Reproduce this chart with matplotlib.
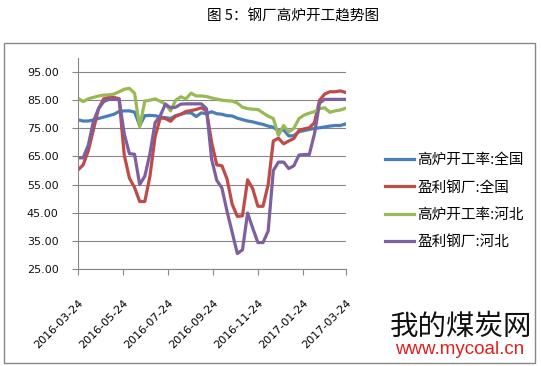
import numpy as np
import pandas as pd
import matplotlib
matplotlib.use('Agg')
import matplotlib.pyplot as plt
import matplotlib.dates as mdates
from matplotlib.patches import Rectangle

plt.rcParams['font.family'] = ['Noto Sans CJK SC', 'DejaVu Sans']

# weekly dates, 2016-03-24 .. 2017-03-23
dates = pd.date_range('2016-03-24', periods=53, freq='7D')

blast_national = [78, 77.6, 77.6, 78, 78.5, 79, 79.5, 80, 81, 81.2, 81.2, 80.8, 76,
                  79.5, 79.6, 79.5, 79, 78.8, 78.5, 79.5, 80, 80.5, 80.5, 79.2, 80.5,
                  80.2, 80.9, 80.2, 80, 79.5, 79.4, 78.6, 78.1, 77.6, 77.3, 76.8, 76.4,
                  75.8, 75.4, 74, 74.5, 72.3, 72.4, 73.8, 74.2, 74.6, 75, 75.2, 75.5,
                  75.8, 76, 76, 76.5]
profit_national = [60.2, 62, 67, 74.5, 82, 85.5, 86, 86, 85.5, 65.5, 57.3, 54, 49,
                   49, 58, 72, 78.7, 78.5, 77.5, 79.3, 80, 81, 81.3, 81.7, 82.3,
                   81.2, 70, 62, 61.7, 57, 48, 43.7, 43.9, 56.7, 53.5, 47.3, 47.3,
                   55, 70.5, 71.5, 69.5, 70.5, 71.4, 74.3, 74.8, 75.2, 77, 85, 87.2,
                   88, 88, 88.3, 87.8]
blast_hebei = [85.7, 84.5, 85.5, 86, 86.5, 86.8, 86.9, 87.2, 88, 88.9, 89.2, 87.5, 75.5,
               84.7, 85, 85.5, 84.6, 83.6, 81.2, 85, 86.2, 85.5, 87.5, 86.5, 86.5,
               86.3, 85.8, 85.4, 85, 84.8, 84.7, 84, 82.5, 82, 81.8, 81.7, 80.5,
               79.3, 78.5, 72.5, 76, 73.7, 75, 78.5, 79.7, 80.4, 80.9, 82, 82.3,
               80.7, 81.2, 81.5, 82.1]
profit_hebei = [64.5, 64.5, 69, 77.5, 82, 84.5, 85.3, 85.3, 85.3, 73, 66, 65.8, 55,
                58, 66, 77, 79.5, 83.6, 82.3, 82.5, 83.6, 83.7, 83.7, 83.7, 83.7,
                82, 64, 56.5, 53.8, 45.5, 38, 30.5, 31.8, 44.9, 39.5, 34.4, 34.4,
                38.5, 60, 63, 63, 60.7, 61.7, 65.5, 65.7, 65.7, 73, 84, 85.3,
                85.3, 85.3, 85.3, 85.3]

labels = ['高炉开工率:全国', '盈利钢厂:全国', '高炉开工率:河北', '盈利钢厂:河北']
colors = ['#4a7ebb', '#be4b48', '#98b954', '#7d60a0']
tick_dates = pd.to_datetime(['2016-03-24', '2016-05-24', '2016-07-24', '2016-09-24',
                             '2016-11-24', '2017-01-24', '2017-03-24'])
yticks = [25, 35, 45, 55, 65, 75, 85, 95]

fig = plt.figure(figsize=(5.41, 3.66), dpi=100)
fig.patch.set_facecolor('white')
ax = fig.add_axes([78 / 541, 1 - 269 / 366, 268 / 541, 211 / 366])

for vals, lab, c in zip([blast_national, profit_national, blast_hebei, profit_hebei], labels, colors):
    ax.plot(dates, vals, color=c, lw=2.3, label=lab, solid_joinstyle='round')

ax.set_ylim(25, 100)
ax.set_yticks(yticks)
ax.set_yticklabels(['%.2f' % v for v in yticks], family='DejaVu Sans', fontsize=8, color='#111111')
ax.set_xlim(pd.Timestamp('2016-03-24'), pd.Timestamp('2017-03-24'))
ax.set_xticks(tick_dates)
ax.set_xticklabels([d.strftime('%Y-%m-%d') for d in tick_dates], family='DejaVu Sans',
                   fontsize=8, rotation=45, ha='right', va='top', rotation_mode='anchor')
ax.grid(axis='y', color='#878787', lw=0.8)
ax.set_axisbelow(True)
for s in ['top', 'right']:
    ax.spines[s].set_visible(False)
for s in ['left', 'bottom']:
    ax.spines[s].set_color('#878787')
    ax.spines[s].set_linewidth(0.8)
ax.tick_params(axis='y', length=4, color='#878787', pad=10)
ax.tick_params(axis='x', length=4, color='#878787', pad=17)

ax.legend(loc='upper left', bbox_to_anchor=(385 / 541, 1 - 153 / 366), bbox_transform=fig.transFigure,
          frameon=False, fontsize=10.5, handlelength=2.0, handletextpad=0.2, labelspacing=0.92,
          borderpad=0, borderaxespad=0)

fig.text(293 / 541, 1 - 16 / 366, '图 5：钢厂高炉开工趋势图', ha='center', va='center', fontsize=10.5)

# outer chart border
fig.patches.append(Rectangle((4 / 541, 1 - 363 / 366), 531 / 541, 320 / 366, transform=fig.transFigure,
                             fill=False, edgecolor='#888888', lw=1))

# watermark
fig.text(461 / 541, 1 - 327 / 366, '我的煤炭网', ha='center', va='center', fontsize=20.5, color='#111111')
fig.text(460 / 541, 1 - 349 / 366, 'www.mycoal.cn', ha='center', va='center', fontsize=13.5,
         color='#e0201c', family='Liberation Sans')

fig.savefig('out.png', dpi=100)
